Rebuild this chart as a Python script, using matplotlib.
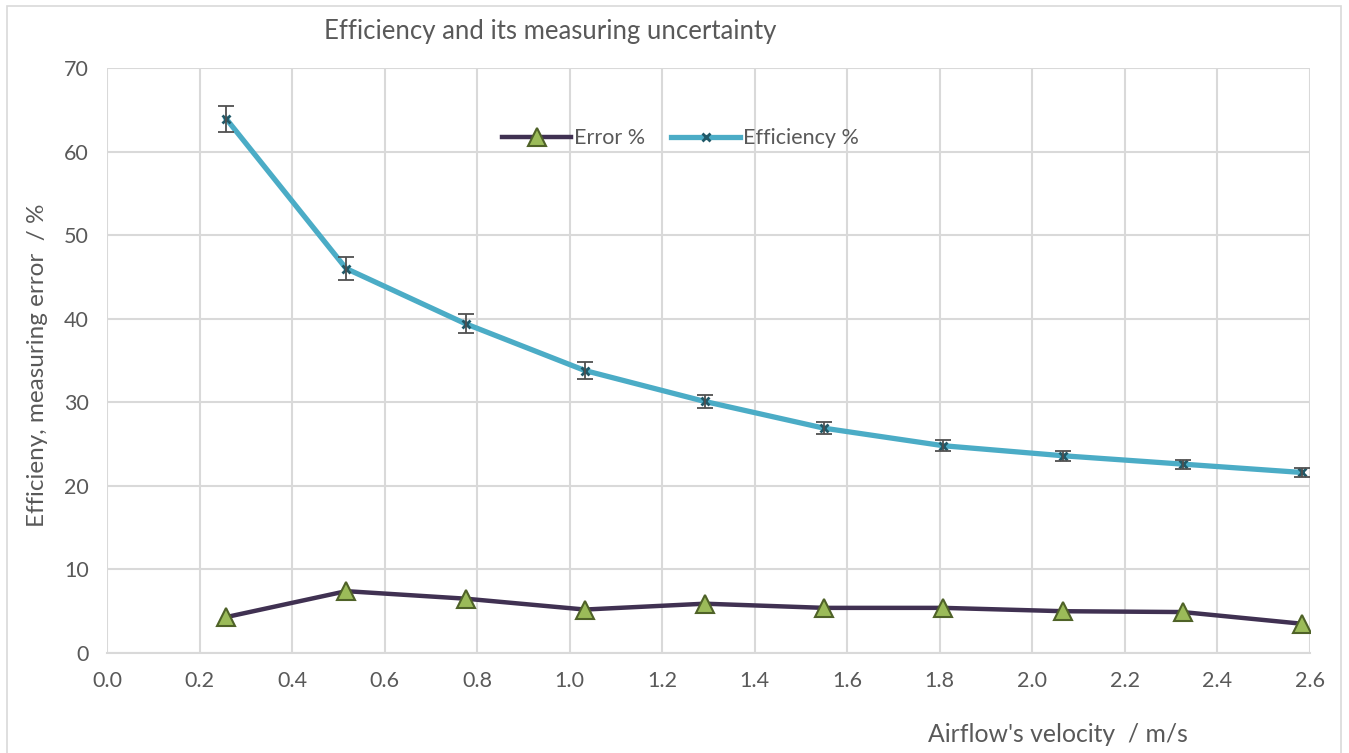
import matplotlib.pyplot as plt
import numpy as np
from matplotlib.patches import Rectangle

plt.rcParams['font.family'] = ['Lato', 'DejaVu Sans']

velocity = [0.258, 0.517, 0.775, 1.033, 1.292, 1.55, 1.808, 2.067, 2.325, 2.583]
efficiency = [63.9, 46.0, 39.4, 33.8, 30.1, 26.9, 24.8, 23.6, 22.6, 21.6]
eff_err = [1.6, 1.4, 1.15, 1.0, 0.8, 0.7, 0.65, 0.6, 0.55, 0.52]
error_pct = [4.3, 7.4, 6.5, 5.2, 5.9, 5.4, 5.4, 5.0, 4.9, 3.5]

text_col = '#595959'
grid_col = '#d9d9d9'

fig = plt.figure(figsize=(13.49, 7.53), dpi=100)
ax = fig.add_axes([0.0793, 0.1328, 0.8917, 0.7769])

# chart border
fig.patches.append(Rectangle((0.005, -0.01), 0.989, 1.002, transform=fig.transFigure,
                             fill=False, edgecolor=grid_col, linewidth=1.2))

ax.plot(velocity, error_pct, color='#403152', linewidth=3.2, marker='^',
        markersize=13, markerfacecolor='#9bbb59', markeredgecolor='#4f6228',
        markeredgewidth=1.5, label='Error %', zorder=3)
ax.plot(velocity, efficiency, color='#4bacc6', linewidth=3.8, marker='x',
        markersize=6, markeredgecolor='#215968', markeredgewidth=2,
        label='Efficiency %', zorder=3)
ax.errorbar(velocity, efficiency, yerr=eff_err, fmt='none', ecolor='#505050',
            elinewidth=1.3, capsize=6, capthick=1.3, zorder=4)

ax.set_xlim(0, 2.6)
ax.set_ylim(0, 70)
ax.set_xticks(np.arange(0, 2.61, 0.2))
ax.set_xticklabels([f'{v:.1f}' for v in np.arange(0, 2.61, 0.2)])
ax.set_yticks(range(0, 71, 10))
ax.grid(True, color=grid_col, linewidth=1.5)
ax.set_axisbelow(True)
for s in ax.spines.values():
    s.set_visible(False)
ax.spines['bottom'].set_visible(True)
ax.spines['bottom'].set_color(grid_col)
ax.spines['bottom'].set_linewidth(1.5)
ax.tick_params(length=0, labelsize=15.5, labelcolor=text_col, pad=13)

fig.text(0.408, 0.958, 'Efficiency and its measuring uncertainty', ha='center',
         va='center', fontsize=18.5, color=text_col)
fig.text(0.028, 0.515, 'Efficieny, measuring error  / %', rotation=90,
         ha='center', va='center', fontsize=17.5, color=text_col)
fig.text(0.784, 0.024, "Airflow's velocity  / m/s", ha='center', va='center',
         fontsize=17.8, color=text_col)

leg = ax.legend(loc='center', bbox_to_anchor=(0.477, 0.88), ncol=2, frameon=False,
                fontsize=15.5, handlelength=3.2, columnspacing=1.2, handletextpad=0.15,
                labelcolor=text_col)

fig.savefig('out.png', dpi=100)
